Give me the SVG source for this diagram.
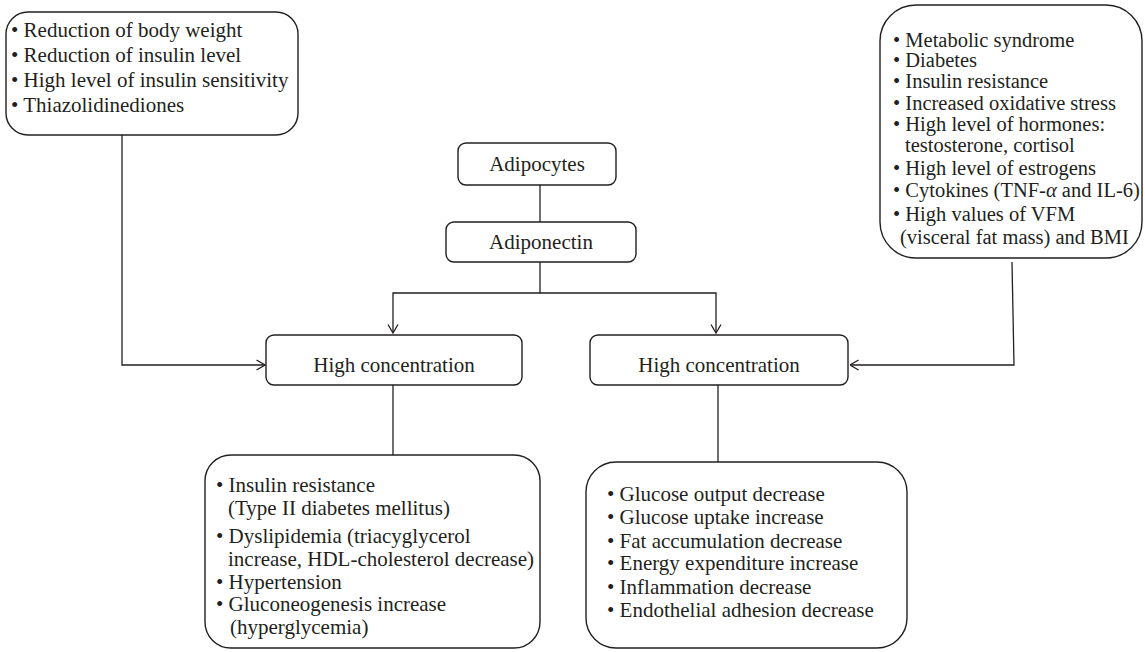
<svg xmlns="http://www.w3.org/2000/svg" width="1145" height="652" viewBox="0 0 1145 652">
<style>
.box{fill:#fff;stroke:#231f20;stroke-width:1.4}
.ln{fill:none;stroke:#231f20;stroke-width:1.3}
text{font-family:"Liberation Serif","Times New Roman",serif;font-size:21px;fill:#231f20}
.c{text-anchor:middle}
.s{font-size:20.5px}
</style>
<defs>
<marker id="ah" viewBox="0 0 10 12" refX="9.5" refY="6" markerWidth="10" markerHeight="12" markerUnits="userSpaceOnUse" orient="auto">
<path d="M1,1 L9.5,6 L1,11" fill="none" stroke="#231f20" stroke-width="1.3"/>
</marker>
</defs>
<g id="connectors">
<line class="ln" x1="540" y1="185" x2="540" y2="222"/>
<polyline class="ln" points="540,262 540,293 393,293 393,333" marker-end="url(#ah)"/>
<polyline class="ln" points="540,293 716,293 716,333" marker-end="url(#ah)"/>
<polyline class="ln" points="122,135 122,365 265,365" marker-end="url(#ah)"/>
<polyline class="ln" points="1012,262 1014,365 850,365" marker-end="url(#ah)"/>
<line class="ln" x1="393" y1="385" x2="393" y2="455"/>
<line class="ln" x1="718" y1="385" x2="718" y2="462"/>
</g>
<g id="factors-increase">
<rect class="box" x="6" y="12" width="292" height="123" rx="22"/>
<text x="11" y="37">• Reduction of body weight</text>
<text x="11" y="62">• Reduction of insulin level</text>
<text x="11" y="87">• High level of insulin sensitivity</text>
<text x="11" y="112">• Thiazolidinediones</text>
</g>
<g id="factors-decrease">
<rect class="box" x="880" y="5" width="262" height="253" rx="36"/>
<text class="s" x="893" y="47">• Metabolic syndrome</text>
<text class="s" x="893" y="67">• Diabetes</text>
<text class="s" x="893" y="88">• Insulin resistance</text>
<text class="s" x="893" y="110">• Increased oxidative stress</text>
<text class="s" x="893" y="131">• High level of hormones:</text>
<text class="s" x="905" y="152">testosterone, cortisol</text>
<text class="s" x="893" y="175">• High level of estrogens</text>
<text class="s" x="893" y="197">• Cytokines (TNF-<tspan font-style="italic">α</tspan> and IL-6)</text>
<text class="s" x="893" y="221">• High values of VFM</text>
<text class="s" x="900" y="244">(visceral fat mass) and BMI</text>
</g>
<g id="adipocytes">
<rect class="box" x="458" y="143" width="158" height="42" rx="8"/>
<text class="c" x="537" y="171">Adipocytes</text>
</g>
<g id="adiponectin">
<rect class="box" x="446" y="222" width="190" height="40" rx="8"/>
<text class="c" x="541" y="249">Adiponectin</text>
</g>
<g id="high-left">
<rect class="box" x="266" y="335" width="256" height="50" rx="8"/>
<text class="c" x="394" y="372">High concentration</text>
</g>
<g id="high-right">
<rect class="box" x="590" y="335" width="258" height="50" rx="8"/>
<text class="c" x="719" y="372">High concentration</text>
</g>
<g id="effects-low">
<rect class="box" x="205" y="455" width="335" height="193" rx="26"/>
<text x="216" y="492">• Insulin resistance</text>
<text x="228" y="515">(Type II diabetes mellitus)</text>
<text x="216" y="543">• Dyslipidemia (triacyglycerol</text>
<text x="228" y="566">increase, HDL-cholesterol decrease)</text>
<text x="216" y="589">• Hypertension</text>
<text x="216" y="611">• Gluconeogenesis increase</text>
<text x="230" y="634">(hyperglycemia)</text>
</g>
<g id="effects-high">
<rect class="box" x="586" y="462" width="321" height="186" rx="30"/>
<text x="607" y="501">• Glucose output decrease</text>
<text x="607" y="524">• Glucose uptake increase</text>
<text x="607" y="548">• Fat accumulation decrease</text>
<text x="607" y="570">• Energy expenditure increase</text>
<text x="607" y="594">• Inflammation decrease</text>
<text x="607" y="617">• Endothelial adhesion decrease</text>
</g>
</svg>
